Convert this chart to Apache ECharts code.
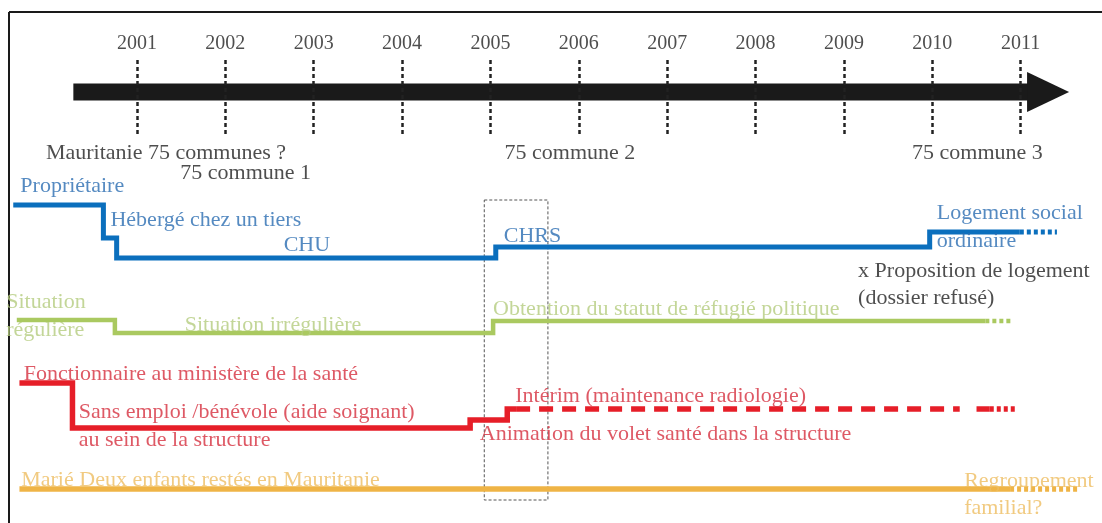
<!DOCTYPE html>
<html>
<head>
<meta charset="utf-8">
<script src="https://cdn.jsdelivr.net/npm/echarts@6/dist/echarts.min.js"></script>
<style>html,body{margin:0;padding:0;background:#fff}#c{width:1102px;height:523px}</style>
</head>
<body>
<div id="c"></div>
<script>
// ---- data (x in years, y in schematic row units, top = 0) ----
const yearTicks = [2001, 2002, 2003, 2004, 2005, 2006, 2007, 2008, 2009, 2010, 2011];
const yearLabelRow = 44;
const tickRowTop = 60;
const tickRowBottom = 134;
const arrowRow = 92;
const arrowStart = 2000.28;
const arrowEnd = 2011.1;
const arrowHead = 2011.31;

const housingPath   = [[1999.60,205],[2000.62,205],[2000.62,238],[2000.77,238],[2000.77,258],[2005.06,258],[2005.06,247],[2009.97,247],[2009.97,232],[2010.99,232]];
const housingFuture = [[2010.99,232],[2011.41,232]];
const statusPath    = [[1999.64,320],[2000.75,320],[2000.75,333],[2005.03,333],[2005.03,321],[2010.60,321]];
const statusFuture  = [[2010.60,321],[2010.91,321]];
const workPath      = [[1999.67,383],[2000.27,383],[2000.27,428],[2004.77,428],[2004.77,420],[2005.19,420],[2005.19,409],[2005.29,409]];
const workInterim   = [[2005.29,409],[2010.31,409]];
const workInterimEnd= [[2010.50,409],[2010.65,409]];
const workFuture    = [[2010.65,409],[2010.96,409]];
const familyPath    = [[1999.67,489],[2010.88,489]];
const familyFuture  = [[2010.88,489],[2011.67,489]];
const focusBox      = [[2004.93,200],[2005.65,200],[2005.65,500],[2004.93,500],[2004.93,200]];

const blackLabels = [[1999.97,153,'Mauritanie 75 communes ?'],[2001.49,173,'75 commune 1'],[2005.16,153,'75 commune 2'],[2009.77,153,'75 commune 3'],[2009.16,271,'x Proposition de logement'],[2009.16,298,'(dossier refusé)']];
const blueLabels  = [[1999.68,186,'Propriétaire'],[2000.70,220,'Hébergé chez un tiers'],[2002.66,245,'CHU'],[2005.15,236,'CHRS'],[2010.05,213,'Logement social'],[2010.05,241,'ordinaire']];
const greenLabels = [[1999.52,302,'Situation'],[1999.52,330,'régulière'],[2001.54,325,'Situation irrégulière'],[2005.03,309,'Obtention du statut de réfugié politique']];
const redLabels   = [[1999.72,374,'Fonctionnaire au ministère de la santé'],[2000.34,412,'Sans emploi /bénévole (aide soignant)'],[2000.34,440,'au sein de la structure'],[2005.28,396,'Intérim (maintenance radiologie)'],[2004.88,434,'Animation du volet santé dans la structure']];
const orangeLabels= [[1999.69,480,'Marié Deux enfants restés en Mauritanie'],[2010.36,481,'Regroupement'],[2010.36,508,'familial?']];

// ---- styles ----
const FONT = '"Liberation Serif", "DejaVu Serif", serif';
const BLUE = '#0b6fbd', BLUE_T = '#2a6db2';
const GREEN = '#aac960', GREEN_T = '#b4cc7e';
const RED = '#e61e28', RED_T = '#d6303e';
const ORANGE = '#efb446', ORANGE_T = '#eebd60';
const BLACK_T = '#222';

function lineSeries(data, color, width, type, z) {
  return { type: 'line', data: data, symbol: 'none', silent: true, z: z || 3,
    lineStyle: { color: color, width: width, type: type || 'solid', cap: 'butt', join: 'miter' } };
}
function labelSeries(arr, color, pos) {
  return { type: 'scatter', symbolSize: 0, silent: true, z: 6,
    data: arr.map(d => ({ value: [d[0], d[1]], name: d[2] })),
    label: { show: true, position: pos || 'right', distance: 0, formatter: '{b}',
      color: color, fontFamily: FONT, fontSize: 22 } };
}

const chart = echarts.init(document.getElementById('c'));
chart.setOption({
  animation: false,
  backgroundColor: '#fff',
  grid: { left: 0, right: 0, top: 0, bottom: 0 },
  xAxis: { type: 'value', min: 1999.45, max: 2011.92, show: false },
  yAxis: { type: 'value', min: 0, max: 523, inverse: true, show: false },
  graphic: [
    { type: 'line', shape: { x1: 9, y1: 12, x2: 1102, y2: 12 }, style: { stroke: '#1a1a1a', lineWidth: 2 } },
    { type: 'line', shape: { x1: 9, y1: 12, x2: 9, y2: 523 }, style: { stroke: '#1a1a1a', lineWidth: 2 } }
  ],
  series: [
    // dashed year ticks
    { type: 'scatter', symbolSize: 0, silent: true, z: 1, data: [],
      markLine: { silent: true, symbol: 'none', label: { show: false },
        lineStyle: { color: '#222', width: 2.5, type: [4, 3] },
        data: yearTicks.map(y => [{ coord: [y, tickRowTop] }, { coord: [y, tickRowBottom] }]) } },
    // year labels
    { type: 'scatter', symbolSize: 0, silent: true, z: 6,
      data: yearTicks.map(y => ({ value: [y, yearLabelRow], name: String(y) })),
      label: { show: true, position: 'inside', formatter: '{b}', color: '#222', fontFamily: FONT, fontSize: 20 } },
    // arrow bar + head
    lineSeries([[arrowStart, arrowRow], [arrowEnd, arrowRow]], '#1a1a1a', 17, 'solid', 2),
    { type: 'scatter', silent: true, z: 2, data: [[arrowHead, arrowRow]], symbol: 'triangle',
      symbolSize: [40, 42], symbolRotate: -90, itemStyle: { color: '#1a1a1a', opacity: 1 } },
    // focus box
    lineSeries(focusBox, '#555', 1, [3, 2], 1),
    // tracks
    lineSeries(housingPath, BLUE, 5),
    lineSeries(housingFuture, BLUE, 5, [4, 3]),
    lineSeries(statusPath, GREEN, 4.5),
    lineSeries(statusFuture, GREEN, 4.5, [4, 3]),
    lineSeries(workPath, RED, 5.5),
    lineSeries(workInterim, RED, 5.5, [14, 9]),
    lineSeries(workInterimEnd, RED, 5.5),
    lineSeries(workFuture, RED, 5.5, [4, 3]),
    lineSeries(familyPath, ORANGE, 5.5),
    lineSeries(familyFuture, ORANGE, 5.5, [4, 3]),
    // labels
    labelSeries(blackLabels, BLACK_T),
    labelSeries(blueLabels, BLUE_T),
    labelSeries(greenLabels, GREEN_T),
    labelSeries(redLabels, RED_T),
    labelSeries(orangeLabels, ORANGE_T)
  ]
});
</script>
</body>
</html>
